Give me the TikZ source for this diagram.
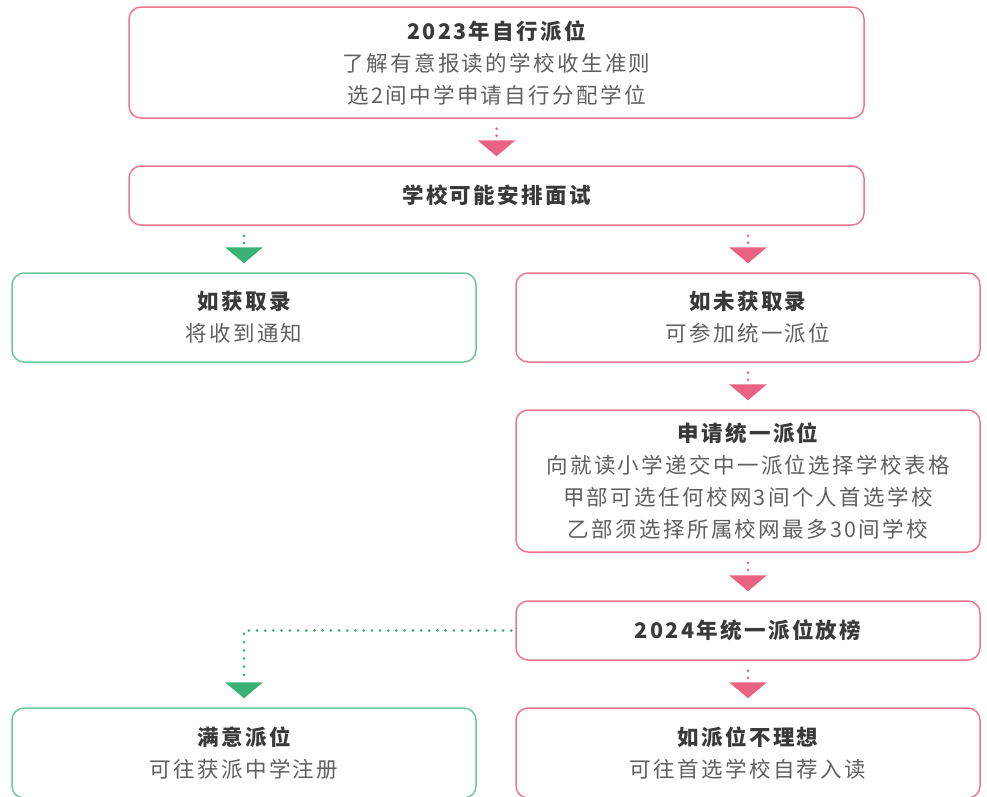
\documentclass[tikz,border=0pt]{standalone}
\usepackage{fontspec}
\setmainfont[LetterSpace=11]{Noto Sans CJK SC}
\usetikzlibrary{arrows.meta}
\definecolor{pinkb}{HTML}{F07690}
\definecolor{pinkt}{HTML}{EC6283}
\definecolor{greenb}{HTML}{6CC898}
\definecolor{greent}{HTML}{3BB275}
\definecolor{titlec}{HTML}{3A3A3A}
\definecolor{bodyc}{HTML}{606060}
\tikzset{
  box/.style={draw=#1, line width=1.5pt, rounded corners=12pt, fill=white,
    align=center, text=bodyc, inner sep=0pt,
    font=\fontsize{21.5}{32}\selectfont},
  pbox/.style={box=pinkb},
  gbox/.style={box=greenb},
  conn/.style={draw=#1, line width=3pt, line cap=round,
    dash pattern=on 0pt off 7pt,
    -{Triangle[width=38pt,length=16pt,fill=#1,line width=0pt]},
    shorten <=10pt, shorten >=9pt},
}
\newcommand{\ttl}[1]{{\bfseries\color{titlec}#1}}
\begin{document}
\begin{tikzpicture}[x=1pt,y=-1pt]
\useasboundingbox (0,0) rectangle (987,796);
\clip (0,0) rectangle (987,796);
\node[pbox, minimum width=735pt, minimum height=111pt] (b1) at (496.5,62.5)
  {\ttl{2023年自行派位}\\了解有意报读的学校收生准则\\选2间中学申请自行分配学位};
\node[pbox, minimum width=735pt, minimum height=59pt] (b2) at (496.5,195.5)
  {\ttl{学校可能安排面试}};
\node[gbox, minimum width=464pt, minimum height=89pt] (b3) at (244,317.5)
  {\ttl{如获取录}\\将收到通知};
\node[pbox, minimum width=464pt, minimum height=89pt] (b4) at (748,317.5)
  {\ttl{如未获取录}\\可参加统一派位};
\node[pbox, minimum width=464pt, minimum height=142pt] (b5) at (748,481)
  {\ttl{申请统一派位}\\向就读小学递交中一派位选择学校表格\\甲部可选任何校网3间个人首选学校\\乙部须选择所属校网最多30间学校};
\node[pbox, minimum width=464pt, minimum height=59pt] (b6) at (748,630.5)
  {\ttl{2024年统一派位放榜}};
\node[gbox, minimum width=464pt, minimum height=90pt] (b7) at (244,753)
  {\ttl{满意派位}\\可往获派中学注册};
\node[pbox, minimum width=464pt, minimum height=90pt] (b8) at (748,753)
  {\ttl{如派位不理想}\\可往首选学校自荐入读};
\draw[conn=pinkt] (b1.south) -- (b2.north);
\draw[conn=greent] (b2.south -| b3.north) -- (b3.north);
\draw[conn=pinkt] (b2.south -| b4.north) -- (b4.north);
\draw[conn=pinkt] (b4.south) -- (b5.north);
\draw[conn=pinkt] (b5.south) -- (b6.north);
\draw[conn=pinkt] (b6.south) -- (b8.north);
\draw[conn=greent, dash pattern=on 0pt off 8.2pt, shorten <=4pt] (b6.west) -| (b7.north);
\end{tikzpicture}
\end{document}
